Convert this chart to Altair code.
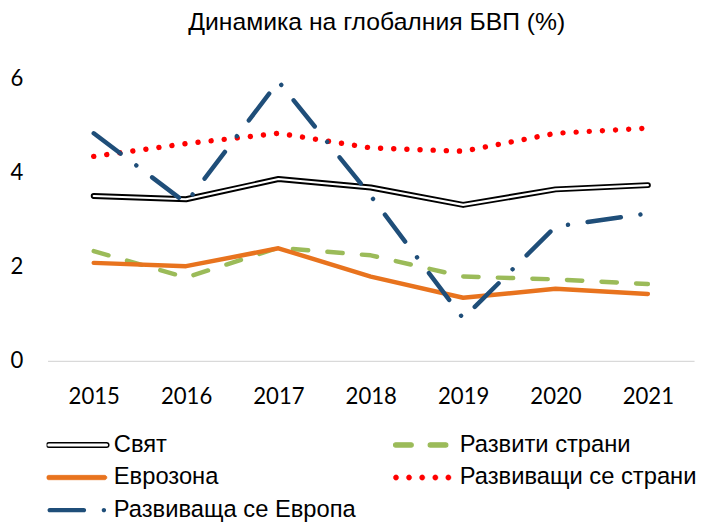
import altair as alt
import pandas as pd

# ---- data ----
years = ["2015", "2016", "2017", "2018", "2019", "2020", "2021"]
series_names = ["Свят", "Развити страни", "Еврозона", "Развиващи се страни", "Развиваща се Европа"]
world = [3.50, 3.43, 3.86, 3.68, 3.31, 3.64, 3.73]
advanced = [2.33, 1.77, 2.40, 2.24, 1.79, 1.73, 1.63]
euro = [2.08, 2.01, 2.39, 1.79, 1.34, 1.53, 1.42]
emerging = [4.34, 4.61, 4.83, 4.52, 4.45, 4.83, 4.94]
dev_europe = [4.83, 3.35, 5.93, 3.50, 0.90, 2.85, 3.13]
y_ticks = [0, 2, 4, 6]
title_text = "Динамика на глобалния БВП (%)"

series_values = [world, advanced, euro, emerging, dev_europe]
rows = []
for name, vals in zip(series_names, series_values):
    for yr, v in zip(years, vals):
        rows.append({"year": yr, "series": name, "value": v})
df = pd.DataFrame(rows)
legend_df = pd.DataFrame({"series": series_names})

# ---- styles ----
BLACK = "#000000"
GREEN = "#9BBB59"
ORANGE = "#E8731E"
RED = "#FF0000"
BLUE = "#1F4E79"
AXIS_FONT = "Lato"
AXIS_SIZE = 22.4
LEGEND_FONT = "Liberation Sans"
LEGEND_SIZE = 24


def capsule(x0, x1, r):
    u = 30.0
    x0, x1, r = x0 / u, x1 / u, r / u
    return (f"M{x0 + r:.4f},{-r:.4f}H{x1 - r:.4f}A{r:.4f},{r:.4f} 0 0 1 {x1 - r:.4f},{r:.4f}"
            f"H{x0 + r:.4f}A{r:.4f},{r:.4f} 0 0 1 {x0 + r:.4f},{-r:.4f}Z")


def dot(cx, r):
    u = 30.0
    cx, r = cx / u, r / u
    return (f"M{cx - r:.4f},0A{r:.4f},{r:.4f} 0 1 0 {cx + r:.4f},0"
            f"A{r:.4f},{r:.4f} 0 1 0 {cx - r:.4f},0Z")


shape_world = capsule(-31, 32, 2.3)
shape_adv = capsule(-30, -10, 2.2) + capsule(5, 25, 2.2)
shape_euro = capsule(-31, 30, 2.2)
shape_emerg = "".join(dot(c, 2.7) for c in [-27.5, -14.3, -1.0, 12.3, 25.5])
shape_deveu = capsule(-30, 9, 2.2) + dot(27, 2.2)

x_enc = alt.X(
    "year:O",
    scale=alt.Scale(domain=years, padding=0.5),
    axis=alt.Axis(
        title=None, labelAngle=0, ticks=False, domainColor="#D9D9D9", domainWidth=1.5,
        labelPadding=25, labelFont=AXIS_FONT, labelFontSize=AXIS_SIZE, labelColor="black",
        grid=False,
    ),
)
y_enc = alt.Y(
    "value:Q",
    scale=alt.Scale(domain=[0, 6], nice=False, zero=True),
    axis=alt.Axis(
        title=None, values=y_ticks, grid=False, domain=False, ticks=False,
        labelPadding=25, labelFont=AXIS_FONT, labelFontSize=AXIS_SIZE, labelColor="black",
    ),
)

base = alt.Chart(df).encode(x=x_enc, y=y_enc)


def line_for(name, **kw):
    return base.transform_filter(alt.datum.series == name).mark_line(
        strokeCap="round", strokeJoin="round", **kw
    )


world_outer = line_for("Свят", color=BLACK, strokeWidth=6.0)
world_inner = line_for("Свят", color="white", strokeWidth=2.2)
adv_line = line_for("Развити страни", color=GREEN, strokeWidth=4.5, strokeDash=[15.5, 19.5])
euro_line = line_for("Еврозона", color=ORANGE, strokeWidth=4.5)
emerg_line = line_for("Развиващи се страни", color=RED, strokeWidth=5.5, strokeDash=[0.01, 13.3])
deveu_line = line_for("Развиваща се Европа", color=BLUE, strokeWidth=4.5, strokeDash=[34, 20, 0.01, 20])

leg = alt.Legend(
    title=None, orient="none", legendX=-1, legendY=357, columns=2, direction="horizontal",
    columnPadding=37, rowPadding=5, clipHeight=28, symbolSize=3600,
    labelFont=LEGEND_FONT, labelFontSize=LEGEND_SIZE, labelColor="black", labelLimit=400,
    labelOffset=6, padding=0, symbolOpacity=1,
)

legend_layer = alt.Chart(legend_df).transform_filter("false").mark_point(
    filled=True, opacity=1
).encode(
    fill=alt.Fill("series:N", scale=alt.Scale(domain=series_names,
                  range=["white", GREEN, ORANGE, RED, BLUE]), legend=leg),
    stroke=alt.Stroke("series:N", scale=alt.Scale(domain=series_names,
                      range=[BLACK, GREEN, ORANGE, RED, BLUE]), legend=leg),
    shape=alt.Shape("series:N", scale=alt.Scale(domain=series_names,
                    range=[shape_world, shape_adv, shape_euro, shape_emerg, shape_deveu]), legend=leg),
    strokeWidth=alt.StrokeWidth("series:N", scale=alt.Scale(domain=series_names,
                                range=[1.5, 0, 0, 0, 0]), legend=leg),
)

chart = alt.layer(
    world_outer, world_inner, adv_line, euro_line, emerg_line, deveu_line, legend_layer
).properties(
    width=654, height=286,
    title=alt.TitleParams(
        title_text, font="Liberation Sans", fontSize=25, fontWeight="normal", color="black",
        anchor="middle", offset=33, dx=6,
    ),
    autosize=alt.AutoSizeParams(type="none"),
    padding={"left": 40, "top": 68, "right": 4, "bottom": 160},
).configure_view(stroke=None)

chart.save("out.html", embed_options={"renderer": "svg", "actions": False})
